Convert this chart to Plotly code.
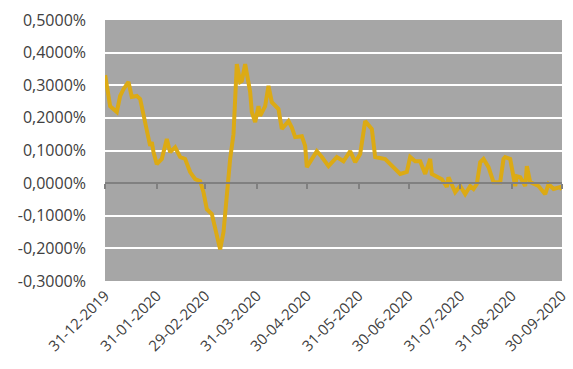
import plotly.graph_objects as go

dates = ["2019-12-31","2020-01-03","2020-01-07","2020-01-09","2020-01-11","2020-01-14","2020-01-16",
         "2020-01-19","2020-01-21","2020-01-24","2020-01-27","2020-01-28","2020-01-29","2020-01-31",
         "2020-02-03","2020-02-06","2020-02-08","2020-02-11","2020-02-14","2020-02-17","2020-02-20",
         "2020-02-23","2020-02-26","2020-02-28","2020-03-01","2020-03-04","2020-03-09","2020-03-11",
         "2020-03-13","2020-03-15","2020-03-17","2020-03-19","2020-03-21","2020-03-22","2020-03-24",
         "2020-03-27","2020-03-28","2020-03-30","2020-04-01","2020-04-02","2020-04-05","2020-04-07",
         "2020-04-09","2020-04-13","2020-04-15","2020-04-19","2020-04-21","2020-04-23","2020-04-27",
         "2020-04-29","2020-04-30","2020-05-03","2020-05-06","2020-05-09","2020-05-13","2020-05-18",
         "2020-05-22","2020-05-26","2020-05-29","2020-06-01","2020-06-04","2020-06-08","2020-06-10",
         "2020-06-16","2020-06-21","2020-06-25","2020-06-29","2020-07-01","2020-07-04","2020-07-07",
         "2020-07-10","2020-07-13","2020-07-14","2020-07-17","2020-07-20","2020-07-23","2020-07-24",
         "2020-07-28","2020-07-31","2020-08-03","2020-08-06","2020-08-08","2020-08-10","2020-08-12",
         "2020-08-14","2020-08-17","2020-08-20","2020-08-24","2020-08-26","2020-08-27","2020-08-30",
         "2020-09-02","2020-09-03","2020-09-05","2020-09-08","2020-09-09","2020-09-11","2020-09-16",
         "2020-09-20","2020-09-22","2020-09-25","2020-09-29","2020-09-30"]
values_pct = [0.331,0.236,0.218,0.267,0.288,0.310,0.264,
              0.267,0.258,0.187,0.114,0.126,0.095,0.058,
              0.074,0.135,0.095,0.110,0.080,0.074,0.034,
              0.012,0.006,-0.028,-0.080,-0.095,-0.203,-0.150,
              -0.030,0.074,0.150,0.365,0.310,0.313,0.365,
              0.279,0.218,0.187,0.236,0.206,0.236,0.298,
              0.248,0.227,0.166,0.190,0.170,0.141,0.144,
              0.114,0.049,0.074,0.098,0.080,0.052,0.080,
              0.067,0.098,0.064,0.089,0.190,0.166,0.080,
              0.074,0.049,0.028,0.034,0.080,0.067,0.067,
              0.028,0.074,0.028,0.021,0.012,-0.012,0.018,
              -0.028,-0.009,-0.034,-0.009,-0.018,-0.003,0.064,
              0.074,0.049,0.003,0.003,0.074,0.080,0.074,
              -0.009,0.021,0.018,-0.009,0.052,0.003,-0.009,
              -0.034,-0.003,-0.018,-0.012,-0.020]

x_tick_vals = ["2019-12-31","2020-01-31","2020-02-29","2020-03-31","2020-04-30",
               "2020-05-31","2020-06-30","2020-07-31","2020-08-31","2020-09-30"]
x_tick_text = ["31-12-2019","31-01-2020","29-02-2020","31-03-2020","30-04-2020",
               "31-05-2020","30-06-2020","31-07-2020","31-08-2020","30-09-2020"]
y_tick_vals = [0.5,0.4,0.3,0.2,0.1,0.0,-0.1,-0.2,-0.3]
y_tick_text = ["0,5000%","0,4000%","0,3000%","0,2000%","0,1000%","0,0000%",
               "-0,1000%","-0,2000%","-0,3000%"]

font_family = "'Open Sans', Lato, sans-serif"
txt_color = "#404040"

fig = go.Figure()
fig.add_trace(go.Scatter(x=dates, y=values_pct, mode="lines",
                         line=dict(color="#dcaa14", width=4), showlegend=False))
# invisible trace to carry the zero-crossing axis with tick marks
fig.add_trace(go.Scatter(x=[dates[0]], y=[0], xaxis="x2", mode="lines",
                         line=dict(width=0), showlegend=False, hoverinfo="skip"))

xr = ["2019-12-30 22:00", "2020-09-30 02:00"]
fig.update_layout(
    width=573, height=369,
    margin=dict(l=105, r=3, t=20, b=88),
    paper_bgcolor="white", plot_bgcolor="#a6a6a6",
    font=dict(family=font_family, color=txt_color, size=14),
    xaxis=dict(range=xr, tickvals=x_tick_vals, ticktext=x_tick_text, tickangle=-45,
               showgrid=False, zeroline=False, showline=False, ticks="",
               ticklabeloverflow="allow", ticklabelstandoff=2,
               tickfont=dict(size=15, color=txt_color)),
    xaxis2=dict(range=xr, overlaying="x", anchor="free", position=0.375,
                tickvals=x_tick_vals, showticklabels=False, showgrid=False,
                showline=True, linecolor="#808080", linewidth=1.5,
                ticks="outside", ticklen=5, tickcolor="#808080", tickwidth=1.5),
    yaxis=dict(range=[-0.3, 0.5], tickvals=y_tick_vals, ticktext=y_tick_text,
               showgrid=True, gridcolor="white", gridwidth=2, zeroline=False,
               ticks="", ticklabelstandoff=18, tickfont=dict(size=16, color=txt_color)),
)
fig.write_html("out.html")
